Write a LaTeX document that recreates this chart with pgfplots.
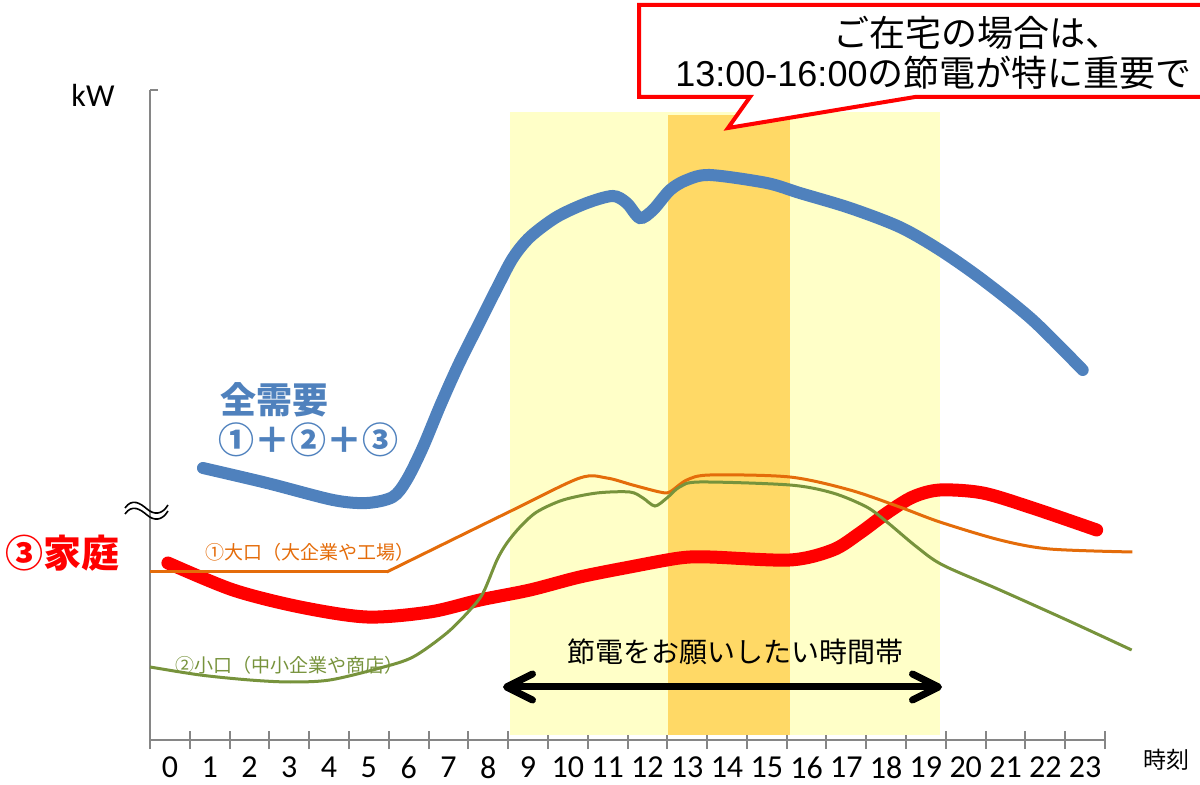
\documentclass[border=0pt]{standalone}
\usepackage{fontspec}
\setmainfont{Carlito}
\newfontfamily\jp{Noto Sans CJK JP}
\newfontfamily\arial{Liberation Sans}
\usepackage{pgfplots}
\pgfplotsset{compat=1.18}
\usetikzlibrary{arrows.meta}

\definecolor{lineblue}{HTML}{4F81BD}
\definecolor{lineorange}{HTML}{E46C0A}
\definecolor{linegreen}{HTML}{77933C}
\definecolor{bandyel}{HTML}{FFFFC8}
\definecolor{bandor}{HTML}{FFD966}
\definecolor{axisgray}{HTML}{868686}

\begin{document}
\begin{tikzpicture}
% picture frame: 1200x785 px at 0.5pt per px
\path[use as bounding box] (0pt,0pt) rectangle (600pt,-392.5pt);

\begin{axis}[
    at={(75pt,-370pt)}, anchor=south west,
    scale only axis, width=477.5pt, height=325pt,
    xmin=-0.5, xmax=23.5, ymin=0, ymax=650,
    clip=false,
    axis x line=bottom, axis y line=left,
    axis line style={draw=axisgray, line width=1pt, -},
    xtick={0,...,23},
    xtick style={draw=none},
    minor xtick={-0.5,0.5,...,23.5},
    xtick align=center,
    minor tick length=9pt,
    minor x tick style={draw=axisgray, line width=1pt},
    ytick={650}, yticklabels={},
    ytick align=inside, major tick length=4pt,
    ytick style={draw=axisgray, line width=1pt},
    /pgf/number format/assume math mode=true,
    xticklabel style={font=\fontsize{16}{16}\selectfont, yshift=-3pt},
]
% time bands
\fill[bandyel] (axis cs:8.55,5) rectangle (axis cs:19.35,628);
\fill[bandor] (axis cs:12.51,5) rectangle (axis cs:15.58,625);

% total demand
\addplot[lineblue, line width=6pt, line cap=round, smooth, tension=0.5] coordinates {
  (0.83,272) (2.44,257) (4.10,240) (4.95,237) (5.60,243) (5.95,260)
  (6.35,292) (6.80,335) (7.25,375) (7.79,418) (8.22,452) (8.62,482)
  (9.05,503) (9.72,523) (10.48,537) (11.13,544) (11.48,537) (11.81,522)
  (12.14,530) (12.57,550) (12.99,560) (13.57,565) (15.00,557) (15.83,547)
  (17.09,532) (18.34,513) (19.35,490) (20.43,460) (21.68,420) (22.94,370)
};
% households
\addplot[red, line width=6.5pt, line cap=round, smooth, tension=0.5] coordinates {
  (-0.05,177) (1.59,150) (3.27,133) (4.95,123) (6.53,128) (7.79,140)
  (9.05,150) (10.30,163) (11.56,173) (12.81,182) (13.57,183) (15.58,180)
  (16.66,190) (17.34,207) (18.02,227) (18.67,243) (19.35,250) (20.43,247)
  (21.68,232) (23.29,210)
};
% large users
\addplot[lineorange, line width=1.5pt] coordinates {(-0.5,168) (5.45,168)};
\addplot[lineorange, line width=1.5pt, smooth, tension=0.5] coordinates {
  (5.45,168) (8.62,230) (10.30,262) (10.98,262) (11.63,255) (12.31,248)
  (12.56,248) (12.99,260) (13.57,265) (15.58,263) (17.09,250) (18.34,233)
  (19.35,218) (20.86,200) (22.11,191) (24.19,188)
};
% small users
\addplot[linegreen, line width=1.5pt, smooth, tension=0.5] coordinates {
  (-0.5,73) (0.76,65) (2.01,60) (3.02,58) (4.02,60) (5.28,72) (6.11,83)
  (6.96,107) (7.54,130) (7.87,147) (8.22,180) (8.47,197) (8.80,213)
  (9.22,228) (9.88,240) (10.73,247) (11.56,248) (11.89,242) (12.19,234)
  (12.49,242) (12.81,253) (13.31,258) (15.58,255) (16.66,247) (17.51,233)
  (18.02,218) (18.77,193) (19.42,175) (20.86,150) (22.54,120) (24.17,90)
};
\end{axis}

\begin{scope}[x=0.5pt,y=-0.5pt]
% arrow and its caption
\draw[line width=3.5pt, {Straight Barb[round,length=13pt,width=13pt]}-{Straight Barb[round,length=13pt,width=13pt]}]
  (503,687) -- (942,687);
\node[font=\jp\fontsize{14}{14}\selectfont] at (735,652) {節電をお願いしたい時間帯};

% callout
\draw[red, line width=2pt, fill=white, line join=miter]
  (639,5) -- (1240,5) -- (1240,97) -- (915,97) -- (728,128) -- (750,97) -- (639,97) -- cycle;
\node[anchor=west, inner sep=0, font=\jp\fontsize{18}{18}\selectfont] at (833,33) {ご在宅の場合は、};
\node[anchor=west, inner sep=0, font=\fontsize{18}{18}\selectfont] at (675,73) {{\arial 13:00-16:00}{\jp の節電が特に重要で}};

% series labels
\node[anchor=west, inner sep=0, text=lineblue, font=\jp\bfseries\fontsize{18}{18}\selectfont] at (220,400) {全需要};
\node[anchor=west, inner sep=0, text=lineblue, font=\jp\bfseries\fontsize{18}{18}\selectfont] at (218,440) {①＋②＋③};
\node[anchor=west, inner sep=0, text=red, font=\jp\bfseries\fontsize{19}{19}\selectfont] at (5,553) {③家庭};
\node[anchor=west, inner sep=0, text=lineorange, font=\jp\fontsize{9.5}{10}\selectfont] at (205,552) {①大口（大企業や工場）};
\node[anchor=west, inner sep=0, text=linegreen, font=\jp\fontsize{9.5}{10}\selectfont] at (175,665) {②小口（中小企業や商店）};

% axis captions
\node[font=\fontsize{16}{16}\selectfont] at (93,95) {kW};
\node[anchor=west, inner sep=0, font=\jp\fontsize{11.5}{12}\selectfont] at (1143,760) {時刻};

% axis break mark
\draw[line width=0.8pt] (125,508) .. controls (132,498) and (140,503) .. (147,509) .. controls (154,515) and (162,515) .. (168,505);
\draw[line width=0.8pt] (125,514) .. controls (132,504) and (140,509) .. (147,515) .. controls (154,521) and (162,521) .. (168,511);
\end{scope}
\end{tikzpicture}
\end{document}
